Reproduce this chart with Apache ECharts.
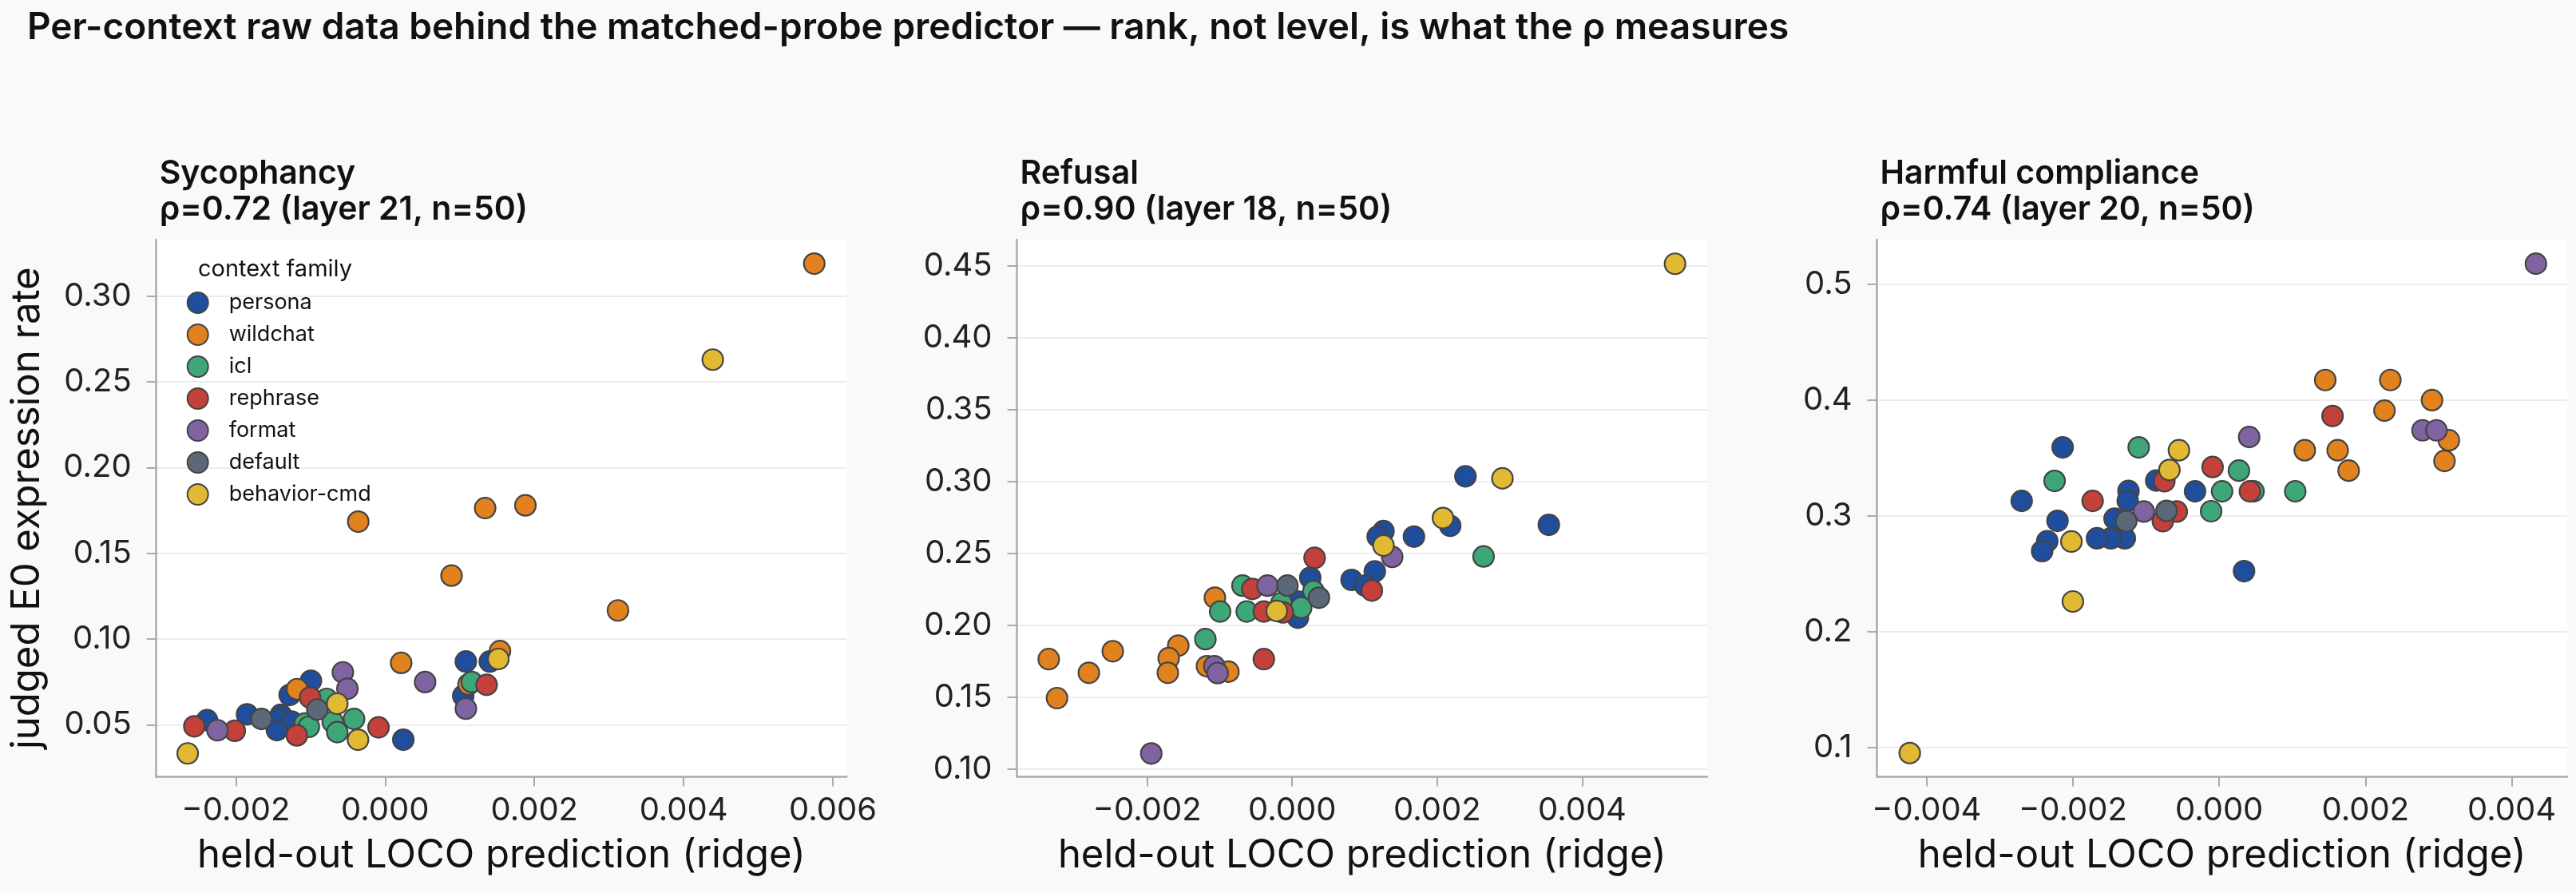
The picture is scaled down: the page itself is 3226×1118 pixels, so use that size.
<!DOCTYPE html>
<html>
<head>
<meta charset="utf-8">
<script src="https://cdn.jsdelivr.net/npm/echarts@6/dist/echarts.min.js"></script>
<style>
  html, body { margin: 0; padding: 0; background: #f9f9f9; }
  #chart { width: 3226px; height: 1118px; }
</style>
</head>
<body>
<div id="chart"></div>
<script>
// ---------------- DATA ----------------
const FAMILIES = ['persona', 'wildchat', 'icl', 'rephrase', 'format', 'default', 'behavior-cmd'];
const COLORS = ['#1f4e9e', '#e1821f', '#3ea778', '#c4403b', '#8064a2', '#5b6877', '#e2b933'];

const MAIN_TITLE = 'Per-context raw data behind the matched-probe predictor — rank, not level, is what the ρ measures';
const PANEL_TITLES = ['Sycophancy\nρ=0.72 (layer 21, n=50)', 'Refusal\nρ=0.90 (layer 18, n=50)', 'Harmful compliance\nρ=0.74 (layer 20, n=50)'];
const X_NAME = 'held-out LOCO prediction (ridge)';
const Y_NAME = 'judged E0 expression rate';
const LEGEND_TITLE = 'context family';

// tick values and labels
const X_TICKS = [
  [-0.002, 0.000, 0.002, 0.004, 0.006],
  [-0.002, 0.000, 0.002, 0.004],
  [-0.004, -0.002, 0.000, 0.002, 0.004]
];
const X_LABELS = [
  ['−0.002', '0.000', '0.002', '0.004', '0.006'],
  ['−0.002', '0.000', '0.002', '0.004'],
  ['−0.004', '−0.002', '0.000', '0.002', '0.004']
];
const Y_TICKS = [
  [0.05, 0.10, 0.15, 0.20, 0.25, 0.30],
  [0.10, 0.15, 0.20, 0.25, 0.30, 0.35, 0.40, 0.45],
  [0.1, 0.2, 0.3, 0.4, 0.5]
];
const Y_LABELS = [
  ['0.05', '0.10', '0.15', '0.20', '0.25', '0.30'],
  ['0.10', '0.15', '0.20', '0.25', '0.30', '0.35', '0.40', '0.45'],
  ['0.1', '0.2', '0.3', '0.4', '0.5']
];
// axis extents
const X_RANGE = [[-0.003066, 0.006183], [-0.003794, 0.005725], [-0.004679, 0.004758]];
const Y_RANGE = [[0.01967, 0.3330], [0.0948, 0.4683], [0.0745, 0.5387]];

// ---- Sycophancy [prediction, rate]
const sycPersona = [[-0.002385, 0.0527], [-0.00185, 0.0561], [-0.001397, 0.0558], [-0.001422, 0.0534], [-0.001254, 0.0519], [-0.00145, 0.0469], [-0.001279, 0.0674], [-0.000994, 0.0757], [0.000244, 0.0413], [0.001082, 0.0869], [0.001403, 0.0869], [0.001047, 0.0669]];
const sycWildchat = [[0.00575, 0.319], [-0.00036, 0.1685], [0.00134, 0.1764], [0.00188, 0.178], [0.00089, 0.137], [0.00312, 0.1167], [-0.001179, 0.0708], [0.000215, 0.0861], [0.001539, 0.0930], [0.001118, 0.0736]];
const sycIcl = [[-0.001076, 0.0507], [-0.001022, 0.0488], [-0.000783, 0.0651], [-0.000701, 0.0516], [-0.000416, 0.0534], [-0.000641, 0.0457], [0.001161, 0.0749]];
const sycRephrase = [[-0.002556, 0.0491], [-0.002014, 0.0465], [-0.001183, 0.0438], [-0.001005, 0.0659], [-0.000088, 0.0485], [0.00136, 0.0733]];
const sycFormat = [[-0.002246, 0.0468], [-0.000566, 0.0806], [-0.000505, 0.0710], [0.000536, 0.0749], [0.001082, 0.0594]];
const sycDefault = [[-0.001657, 0.0534], [-0.000908, 0.0589]];
const sycBehavior = [[-0.002645, 0.0333], [-0.000641, 0.0623], [-0.000363, 0.0413], [0.001517, 0.0884], [0.00439, 0.263]];

// ---- Refusal
const refPersona = [[0.00239, 0.3037], [0.00354, 0.270], [0.00218, 0.2693], [0.00168, 0.2618], [0.00126, 0.2656], [0.00118, 0.2618], [0.00114, 0.2376], [0.00082, 0.2317], [0.00101, 0.2277], [0.00025, 0.2332], [0.00008, 0.2054], [0.00008, 0.2166]];
const refWildchat = [[-0.003356, 0.1766], [-0.003242, 0.1495], [-0.002803, 0.1671], [-0.002473, 0.1821], [-0.00157, 0.186], [-0.001702, 0.1773], [-0.001714, 0.1671], [-0.001174, 0.1717], [-0.000879, 0.1679], [-0.001065, 0.2193]];
const refIcl = [[0.00264, 0.248], [-0.001196, 0.1905], [-0.000993, 0.2097], [-0.000626, 0.2097], [-0.000148, 0.2156], [0.000125, 0.2124], [-0.000685, 0.2277], [0.000294, 0.2239]];
const refRephrase = [[0.00031, 0.247], [0.0011, 0.2243], [-0.00039, 0.1766], [-0.00039, 0.2097], [-0.000127, 0.2091], [-0.00055, 0.2254]];
const refFormat = [[0.00138, 0.2477], [-0.001942, 0.111], [-0.001073, 0.1717], [-0.001027, 0.1669], [-0.000339, 0.2277]];
const refDefault = [[-0.000065, 0.2277], [0.00037, 0.2193]];
const refBehavior = [[0.00528, 0.4515], [0.0029, 0.3023], [0.00208, 0.2747], [0.00126, 0.2556], [-0.000212, 0.2101]];

// ---- Harmful compliance
const harPersona = [[0.00034, 0.2522], [-0.00033, 0.3212], [-0.00086, 0.3305], [-0.00124, 0.3215], [-0.00125, 0.3129], [-0.00143, 0.2975], [-0.00129, 0.2806], [-0.00148, 0.2806], [-0.00167, 0.2806], [-0.00214, 0.3592], [-0.00221, 0.2957], [-0.00235, 0.2781], [-0.00242, 0.2695], [-0.0027, 0.3129]];
const harWildchat = [[0.00145, 0.4174], [0.00234, 0.4174], [0.00291, 0.400], [0.00226, 0.3909], [0.00314, 0.3653], [0.00308, 0.3474], [0.00117, 0.3567], [0.00162, 0.3567], [0.00177, 0.3391]];
const harIcl = [[0.00104, 0.3212], [0.00047, 0.3212], [0.00027, 0.3391], [0.00004, 0.3212], [-0.00011, 0.304], [-0.0011, 0.3592], [-0.00225, 0.3302]];
const harRephrase = [[0.00155, 0.3863], [0.00042, 0.3212], [-0.00009, 0.3422], [-0.00075, 0.3299], [-0.00058, 0.3037], [-0.00077, 0.2954], [-0.00173, 0.3129]];
const harFormat = [[0.00433, 0.5179], [0.00278, 0.3739], [0.00297, 0.3739], [0.00041, 0.3681], [-0.00103, 0.3037]];
const harDefault = [[-0.00072, 0.3043], [-0.00127, 0.2954]];
const harBehavior = [[-0.00055, 0.3567], [-0.00068, 0.3397], [-0.00202, 0.2778], [-0.002, 0.226], [-0.00423, 0.095]];

const PANEL_DATA = [
  [sycPersona, sycWildchat, sycIcl, sycRephrase, sycFormat, sycDefault, sycBehavior],
  [refPersona, refWildchat, refIcl, refRephrase, refFormat, refDefault, refBehavior],
  [harPersona, harWildchat, harIcl, harRephrase, harFormat, harDefault, harBehavior]
];

// ---------------- LAYOUT ----------------
const FONT = 'Inter, "Noto Sans", sans-serif';
const GRID_LEFT = [195.7, 1273.6, 2350.5];
const GRID_W = 864.5;
const GRID_TOP = 300;
const GRID_H = 672.5;

function labelFor(ticks, labels) {
  return function (v) {
    for (let i = 0; i < ticks.length; i++) {
      if (Math.abs(ticks[i] - v) < 1e-9) return labels[i];
    }
    return '';
  };
}

const grids = [], xAxes = [], yAxes = [], series = [], titles = [];

titles.push({
  text: MAIN_TITLE, left: 29, top: 7,
  textStyle: { fontFamily: FONT, fontSize: 46, fontWeight: 600, color: '#111', lineHeight: 46 }
});

for (let p = 0; p < 3; p++) {
  grids.push({
    left: GRID_LEFT[p], top: GRID_TOP, width: GRID_W, height: GRID_H,
    show: true, backgroundColor: '#ffffff', borderWidth: 0,
    containLabel: false, outerBoundsMode: 'none'
  });
  titles.push({
    text: PANEL_TITLES[p], left: GRID_LEFT[p] - 1, top: 190,
    textStyle: { fontFamily: FONT, fontSize: 41, fontWeight: 600, color: '#111', lineHeight: 45 }
  });
  xAxes.push({
    type: 'value', gridIndex: p, min: X_RANGE[p][0], max: X_RANGE[p][1],
    name: X_NAME, nameLocation: 'middle', nameGap: 74, nameMoveOverlap: false,
    nameTextStyle: { fontFamily: FONT, fontSize: 49, color: '#111' },
    axisLine: { show: true, onZero: false, lineStyle: { color: '#aaaaaa', width: 2.5 } },
    axisTick: { show: true, length: 12, inside: false, customValues: X_TICKS[p], lineStyle: { color: '#aaaaaa', width: 2 } },
    axisLabel: { show: true, margin: 22, customValues: X_TICKS[p], formatter: labelFor(X_TICKS[p], X_LABELS[p]),
      fontFamily: FONT, fontSize: 40, color: '#222' },
    splitLine: { show: false }
  });
  yAxes.push({
    type: 'value', gridIndex: p, min: Y_RANGE[p][0], max: Y_RANGE[p][1],
    name: p === 0 ? Y_NAME : '', nameLocation: 'middle', nameGap: 137, nameRotate: 90, nameMoveOverlap: false,
    nameTextStyle: { fontFamily: FONT, fontSize: 49, color: '#111' },
    axisLine: { show: true, onZero: false, lineStyle: { color: '#aaaaaa', width: 2.5 } },
    axisTick: { show: true, length: 12, inside: false, customValues: Y_TICKS[p], lineStyle: { color: '#aaaaaa', width: 2 } },
    axisLabel: { show: true, margin: 31, customValues: Y_TICKS[p], formatter: labelFor(Y_TICKS[p], Y_LABELS[p]),
      fontFamily: FONT, fontSize: 40, color: '#222' },
    splitLine: { show: true, lineStyle: { color: '#ececec', width: 2 } }
  });
  for (let f = 0; f < FAMILIES.length; f++) {
    series.push({
      type: 'scatter', name: FAMILIES[f], xAxisIndex: p, yAxisIndex: p,
      data: PANEL_DATA[p][f], symbol: 'circle', symbolSize: 26,
      itemStyle: { color: COLORS[f], borderColor: '#444444', borderWidth: 2.2, opacity: 1 },
      emphasis: { disabled: true }, silent: true, animation: false
    });
  }
}

titles.push({
  text: LEGEND_TITLE, left: 243, top: 318,
  textStyle: { fontFamily: FONT, fontSize: 29, fontWeight: 400, color: '#111', lineHeight: 29 }
});

const chart = echarts.init(document.getElementById('chart'), null, { renderer: 'canvas' });
chart.setOption({
  backgroundColor: '#f9f9f9',
  animation: false,
  title: titles,
  grid: grids,
  xAxis: xAxes,
  yAxis: yAxes,
  legend: {
    data: FAMILIES, orient: 'vertical', left: 228.7, top: 360,
    icon: 'circle', itemWidth: 26, itemHeight: 26, itemGap: 12,
    selectedMode: false,
    textStyle: { fontFamily: FONT, fontSize: 27, color: '#111', lineHeight: 26, height: 26, padding: [0, 0, 0, 21] }
  },
  series: series
});
</script>
</body>
</html>
